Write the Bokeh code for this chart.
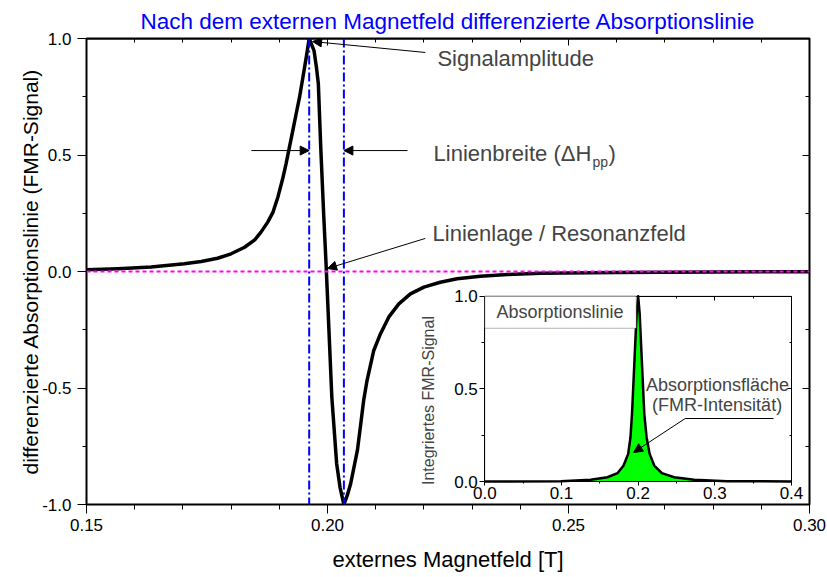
import math
from bokeh.plotting import figure
from bokeh.models import (Range1d, LinearAxis, FixedTicker, PrintfTickFormatter, Span,
                          Arrow, NormalHead, Label, BoxAnnotation, ColumnDataSource)
from bokeh.embed import file_html
from bokeh.resources import INLINE

# ---------------- data ----------------
# derivative of the absorption line (main plot)
field_T = [0.1500, 0.1565, 0.1634, 0.1703, 0.1738, 0.1772, 0.1800, 0.1828, 0.1849,
           0.1862, 0.1876, 0.1887, 0.1897, 0.1907, 0.1914, 0.1921, 0.1928, 0.1935,
           0.1942, 0.1949, 0.1956, 0.1962, 0.1972, 0.1977, 0.1981, 0.1986, 0.1992,
           0.1997, 0.2003, 0.2009, 0.2019, 0.2026, 0.2034, 0.2041, 0.2048, 0.2055,
           0.2062, 0.2069, 0.2075, 0.2082, 0.2096, 0.2110, 0.2127, 0.2148, 0.2172,
           0.2200, 0.2234, 0.2269, 0.2317, 0.2373, 0.2442, 0.2600, 0.2800, 0.3000]
diff_signal = [0.007, 0.012, 0.019, 0.033, 0.043, 0.057, 0.076, 0.104, 0.136,
               0.169, 0.212, 0.255, 0.319, 0.398, 0.462, 0.534, 0.605, 0.677,
               0.748, 0.834, 0.920, 1.000, 0.948, 0.877, 0.806, 0.533, 0.248,
               0.033, -0.253, -0.540, -0.825, -0.926, -1.000, -0.961, -0.911, -0.840,
               -0.768, -0.654, -0.554, -0.468, -0.339, -0.267, -0.196, -0.139, -0.096,
               -0.067, -0.046, -0.031, -0.020, -0.013, -0.007, -0.004, -0.002, -0.001]

# integrated absorption line (inset)
inset_field = [0.000, 0.099, 0.138, 0.160, 0.173, 0.181, 0.187, 0.190, 0.192, 0.194,
               0.196, 0.198, 0.200, 0.202, 0.204, 0.206, 0.208, 0.211, 0.215, 0.221,
               0.231, 0.247, 0.273, 0.316, 0.400]
inset_signal = [0.000, 0.002, 0.009, 0.023, 0.045, 0.086, 0.149, 0.239, 0.365, 0.545,
                0.725, 0.905, 1.000, 0.905, 0.725, 0.545, 0.365, 0.239, 0.149, 0.086,
                0.045, 0.023, 0.009, 0.002, 0.000]

x_ticks = [0.15, 0.20, 0.25, 0.30]
x_tick_labels = ["0.15", "0.20", "0.25", "0.30"]
x_minor = [0.16, 0.17, 0.18, 0.19, 0.21, 0.22, 0.23, 0.24, 0.26, 0.27, 0.28, 0.29]
y_ticks = [-1.0, -0.5, 0.0, 0.5, 1.0]
y_tick_labels = ["-1.0", "-0.5", "0.0", "0.5", "1.0"]
y_minor = [-0.75, -0.25, 0.25, 0.75]

ix_ticks = [0.0, 0.1, 0.2, 0.3, 0.4]
ix_tick_labels = ["0.0", "0.1", "0.2", "0.3", "0.4"]
ix_minor = [0.05, 0.15, 0.25, 0.35]
iy_ticks = [0.0, 0.5, 1.0]
iy_tick_labels = ["0.0", "0.5", "1.0"]
iy_minor = [0.25, 0.75]

FONT = "Liberation Sans"

p = figure(width=827, height=577, output_backend="svg", toolbar_location=None,
           x_range=Range1d(0.15, 0.30), y_range=Range1d(-1.0, 1.0),
           x_axis_type=None, y_axis_type=None,
           min_border_left=86, min_border_right=18, min_border_top=38, min_border_bottom=73)
p.outline_line_color = "black"
p.outline_line_width = 2
p.background_fill_color = "white"
p.border_fill_color = "white"

# title
p.title.text = "Nach dem externen Magnetfeld differenzierte Absorptionslinie"
p.title.align = "center"
p.title.text_font = FONT
p.title.text_font_size = "22.5px"
p.title.text_font_style = "normal"
p.title.text_color = "#0000FF"
p.title.standoff = 10
p.title.background_fill_color = None
p.title.border_line_color = None

# inset coordinate system (its own ranges)
p.extra_x_ranges = {"ix": Range1d(-0.5195, 0.4235)}
p.extra_y_ranges = {"iy": Range1d(-0.1241, 2.3907)}


def style_axis(ax, tick_out, tick_in, minor_out, minor_in, font_size="17px", standoff=5,
               labels=True):
    ax.axis_line_color = "black"
    ax.axis_line_width = 1
    ax.major_tick_line_color = "black"
    ax.minor_tick_line_color = "black"
    ax.major_tick_out = tick_out
    ax.major_tick_in = tick_in
    ax.minor_tick_out = minor_out
    ax.minor_tick_in = minor_in
    ax.major_label_text_font = FONT
    ax.major_label_text_font_size = font_size
    ax.major_label_text_color = "black" if labels else None
    ax.major_label_standoff = standoff
    ax.axis_label_text_font = FONT
    ax.axis_label_text_font_style = "normal"
    ax.axis_label_text_color = "black"


# main axes
xb = LinearAxis(ticker=FixedTicker(ticks=x_ticks, minor_ticks=x_minor),
                formatter=PrintfTickFormatter(format="%.2f"),
                major_label_overrides=dict(zip(x_ticks, x_tick_labels)),
                axis_label="externes Magnetfeld [T]")
style_axis(xb, 9, 0, 5, 0, standoff=5)
xb.axis_label_text_font_size = "22px"
xb.axis_label_standoff = 13
p.add_layout(xb, "below")

yl = LinearAxis(ticker=FixedTicker(ticks=y_ticks, minor_ticks=y_minor),
                formatter=PrintfTickFormatter(format="%.1f"),
                major_label_overrides=dict(zip(y_ticks, y_tick_labels)),
                axis_label="differenzierte Absorptionslinie (FMR-Signal)")
style_axis(yl, 9, 0, 4, 0, standoff=6)
yl.axis_label_text_font_size = "21px"
yl.axis_label_standoff = -3
p.add_layout(yl, "left")

xt = LinearAxis(fixed_location=1.0, ticker=FixedTicker(ticks=x_ticks, minor_ticks=x_minor))
style_axis(xt, 0, 7, 0, 4, labels=False)
p.add_layout(xt, "above")

yr = LinearAxis(fixed_location=0.30, ticker=FixedTicker(ticks=y_ticks, minor_ticks=y_minor))
style_axis(yr, 0, 7, 0, 4, labels=False)
p.add_layout(yr, "right")

# main curve
src = ColumnDataSource(dict(x=field_T, y=diff_signal))
p.line("x", "y", source=src, line_color="black", line_width=3.5, line_join="round")

# frame top edge
p.add_layout(Span(location=1.0, dimension="width", line_color="black", line_width=2))

# reference lines
i_max = diff_signal.index(max(diff_signal))
i_min = diff_signal.index(min(diff_signal))
x_peak = field_T[i_max]
x_valley = field_T[i_min]
p.add_layout(Span(location=0.0, dimension="width", line_color="#FF00FF",
                  line_dash="4 3", line_width=2))
for loc in (x_peak, x_valley):
    p.add_layout(Span(location=loc, dimension="height", line_color="#0000FF",
                      line_dash="9 3 2 3", line_width=2))


def head():
    return NormalHead(size=9, fill_color="black", line_color="black", line_width=1)


# annotations main plot
p.add_layout(Arrow(end=head(), x_start=0.2203, y_start=0.940, x_end=0.1969, y_end=0.987,
                   line_color="black", line_width=1))
p.add_layout(Label(x=0.2228, y=0.916, text="Signalamplitude", text_font=FONT,
                   text_font_size="22px", text_baseline="middle", text_align="left"))

p.add_layout(Arrow(end=head(), x_start=0.1842, y_start=0.519, x_end=x_peak, y_end=0.519,
                   line_color="black", line_width=1))
p.add_layout(Arrow(end=head(), x_start=0.2166, y_start=0.519, x_end=x_valley, y_end=0.519,
                   line_color="black", line_width=1))
p.add_layout(Label(x=0.2220, y=0.506, text="Linienbreite (\u0394H", text_font=FONT,
                   text_font_size="22px", text_baseline="middle", text_align="left"))
p.add_layout(Label(x=0.2220, y=0.506, x_offset=159, y_offset=-8, text="pp", text_font=FONT,
                   text_font_size="14px", text_baseline="middle", text_align="left"))
p.add_layout(Label(x=0.2220, y=0.506, x_offset=175, text=")", text_font=FONT,
                   text_font_size="22px", text_baseline="middle", text_align="left"))

p.add_layout(Arrow(end=head(), x_start=0.2203, y_start=0.142, x_end=0.2000, y_end=0.013,
                   line_color="black", line_width=1))
p.add_layout(Label(x=0.2218, y=0.163, text="Linienlage / Resonanzfeld", text_font=FONT,
                   text_font_size="22px", text_baseline="middle", text_align="left"))

# ---------------- inset ----------------
p.add_layout(BoxAnnotation(left=0.0, right=0.4, bottom=0.0, top=1.0, x_range_name="ix",
                           y_range_name="iy", fill_color="white", fill_alpha=1.0,
                           line_color="black", line_width=1, level="underlay"))

isrc = ColumnDataSource(dict(x=inset_field, y=inset_signal))
p.varea(x="x", y1=0.0, y2="y", source=isrc, fill_color="#00FF00",
        x_range_name="ix", y_range_name="iy")
p.line("x", "y", source=isrc, line_color="black", line_width=2.5, line_join="round",
       x_range_name="ix", y_range_name="iy")

ixb = LinearAxis(x_range_name="ix", y_range_name="iy", fixed_location=0.0, bounds=(0.0, 0.4),
                 ticker=FixedTicker(ticks=ix_ticks, minor_ticks=ix_minor),
                 formatter=PrintfTickFormatter(format="%.1f"),
                 major_label_overrides=dict(zip(ix_ticks, ix_tick_labels)))
style_axis(ixb, 4, 0, 2, 0, standoff=1)
p.add_layout(ixb, "below")

iyl = LinearAxis(x_range_name="ix", y_range_name="iy", fixed_location=0.0, bounds=(0.0, 1.0),
                 ticker=FixedTicker(ticks=iy_ticks, minor_ticks=iy_minor),
                 formatter=PrintfTickFormatter(format="%.1f"),
                 major_label_overrides=dict(zip(iy_ticks, iy_tick_labels)))
style_axis(iyl, 5, 0, 3, 0, standoff=2)
p.add_layout(iyl, "left")

ixt = LinearAxis(x_range_name="ix", y_range_name="iy", fixed_location=1.0, bounds=(0.0, 0.4),
                 ticker=FixedTicker(ticks=ix_ticks, minor_ticks=ix_minor))
style_axis(ixt, 0, 4, 0, 2, labels=False)
p.add_layout(ixt, "above")

iyr = LinearAxis(x_range_name="ix", y_range_name="iy", fixed_location=0.4, bounds=(0.0, 1.0),
                 ticker=FixedTicker(ticks=iy_ticks, minor_ticks=iy_minor))
style_axis(iyr, 0, 4, 0, 2, labels=False)
p.add_layout(iyr, "right")

p.add_layout(Label(x=0.0, y=0.437, x_offset=-56, angle=math.pi / 2,
                   text="Integriertes FMR-Signal", text_font=FONT, text_font_size="16px",
                   text_align="center", text_baseline="middle",
                   x_range_name="ix", y_range_name="iy"))

p.add_layout(BoxAnnotation(left=0.0, right=0.1975, bottom=0.827, top=1.0, x_range_name="ix",
                           y_range_name="iy", fill_color="white", fill_alpha=1.0,
                           line_color="black", line_width=1))
p.add_layout(Label(x=0.098, y=0.914, text="Absorptionslinie", text_font=FONT,
                   text_font_size="18px", text_align="center", text_baseline="middle",
                   x_range_name="ix", y_range_name="iy"))

p.add_layout(Label(x=0.3035, y=0.523, text="Absorptionsfl\u00e4che", text_font=FONT,
                   text_font_size="18px", text_align="center", text_baseline="middle",
                   x_range_name="ix", y_range_name="iy"))
p.add_layout(Label(x=0.303, y=0.415, text="(FMR-Intensit\u00e4t)", text_font=FONT,
                   text_font_size="18px", text_align="center", text_baseline="middle",
                   x_range_name="ix", y_range_name="iy"))
p.add_layout(Arrow(end=None, x_start=0.3766, y_start=0.340, x_end=0.2614, y_end=0.340,
                   line_color="black", line_width=1, x_range_name="ix", y_range_name="iy"))
p.add_layout(Arrow(end=head(), x_start=0.2614, y_start=0.340, x_end=0.194, y_end=0.157,
                   line_color="black", line_width=1, x_range_name="ix", y_range_name="iy"))

open("out.html", "w").write(file_html(p, INLINE))
